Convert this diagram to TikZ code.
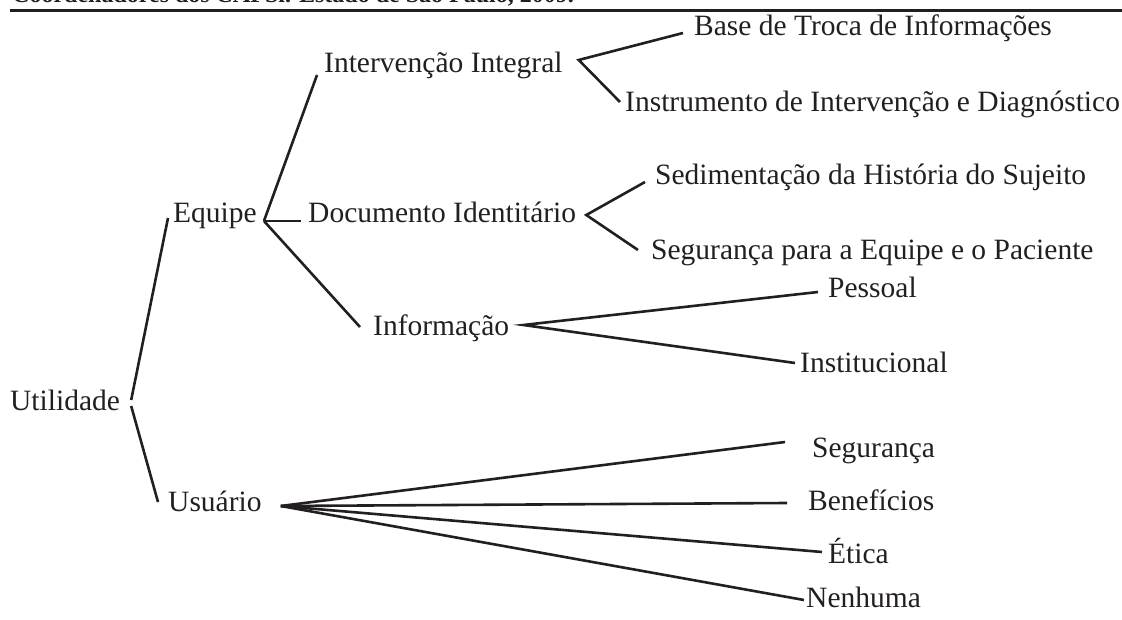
\documentclass[tikz,border=0pt]{standalone}
\usepackage{fontspec}
\setmainfont{Liberation Serif}
\usetikzlibrary{calc}

\definecolor{ink}{RGB}{35,31,32}
\tikzset{
  leaf/.style={anchor=base west, inner sep=0pt, text height=16pt, text depth=0pt,
    text=ink, font=\fontsize{29.5}{34}\selectfont},
  twig/.style={draw=ink, line width=2.6pt},
}

\begin{document}
\begin{tikzpicture}[x=1pt, y=-1pt]
  \useasboundingbox (0,0) rectangle (1122,620);

  % Source line (cut off by the page) and rule
  \begin{scope}
    \clip (0,0) rectangle (1122,620);
    \node[anchor=base west, inner sep=0pt, text=ink,
      font=\fontsize{24}{28}\selectfont\bfseries] (src) at (12,3)
      {Coordenadores dos CAPSi. Estado de São Paulo, 2009.};
  \end{scope}
  \draw[ink, line width=2.8pt] (10,10.5) -- (1122,10.5);

  % Root
  \node[leaf] (util) at (10,410) {Utilidade};
  % First level
  \node[leaf] (equipe) at (173,223) {Equipe};
  \node[leaf] (usuario) at (168,511) {Usuário};
  % Second level
  \node[leaf] (interv) at (324,73) {Intervenção Integral};
  \node[leaf] (docid) at (308,223) {Documento Identitário};
  \node[leaf] (info) at (373,335) {Informação};
  % Third level
  \node[leaf] (base) at (694,36) {Base de Troca de Informações};
  \node[leaf] (instr) at (625,112) {Instrumento de Intervenção e Diagnóstico};
  \node[leaf] (sedim) at (655,185) {Sedimentação da História do Sujeito};
  \node[leaf] (segeq) at (651,260) {Segurança para a Equipe e o Paciente};
  \node[leaf] (pess) at (828,298) {Pessoal};
  \node[leaf] (inst) at (800,372) {Institucional};
  % User leaves
  \node[leaf] (seg) at (812,457) {Segurança};
  \node[leaf] (benef) at (808,510) {Benefícios};
  \node[leaf] (etica) at (828,563) {Ética};
  \node[leaf] (nenh) at (806,607) {Nenhuma};

  % Utilidade
  \draw[twig] ([shift={(11,-2)}]util.east) -- ([shift={(-5,3)}]equipe.west);
  \draw[twig] ([shift={(11,4)}]util.east) -- ([shift={(-10,-1)}]usuario.west);
  % Equipe
  \draw[twig] ([shift={(7,6)}]equipe.east) -- ([shift={(-7,10)}]interv.west);
  \draw[twig] ([shift={(7,6)}]equipe.east) -- ([shift={(-7,6)}]docid.west);
  \draw[twig] ([shift={(7,6)}]equipe.east) -- ([shift={(-13,0)}]info.west);
  % Intervencao
  \draw[twig] ([shift={(-11,5)}]base.west) -- ([shift={(16,-5)}]interv.east)
    -- ([shift={(-5,-2)}]instr.west);
  % Documento
  \draw[twig] ([shift={(-10,5)}]sedim.west) -- ([shift={(10,0)}]docid.east)
    -- ([shift={(-13,-2)}]segeq.west);
  % Informacao
  \draw[twig] ([shift={(-10,2)}]pess.west) -- ([shift={(14,-2)}]info.east)
    -- ([shift={(-5,-1)}]inst.west);
  % Usuario
  \draw[twig] ([shift={(19,3)}]usuario.east) -- ([shift={(-27,-7)}]seg.west);
  \draw[twig] ([shift={(19,3)}]usuario.east) -- ([shift={(-21,1)}]benef.west);
  \draw[twig] ([shift={(19,3)}]usuario.east) -- ([shift={(-6,-3)}]etica.west);
  \draw[twig] ([shift={(19,3)}]usuario.east) -- ([shift={(-2,1)}]nenh.west);
\end{tikzpicture}
\end{document}
